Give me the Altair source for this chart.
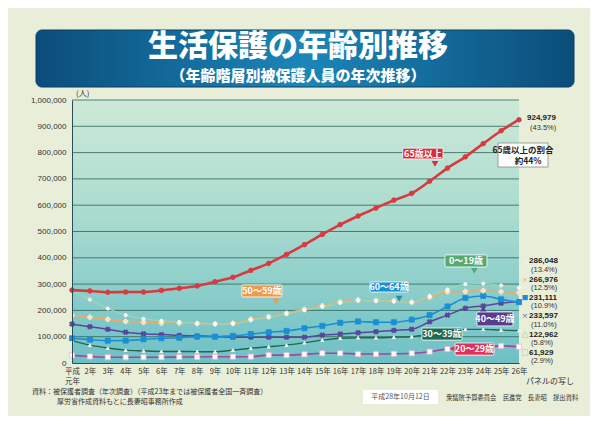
import altair as alt
import pandas as pd

# ---------------- data ----------------
years = list(range(1, 27))
series_names = ["65歳以上", "0～19歳", "50～59歳", "60～64歳", "40～49歳", "30～39歳", "20～29歳"]

v65 = [277000, 274000, 269000, 270000, 270000, 276000, 284000, 293000, 309000, 326000,
       352000, 379000, 413000, 450000, 489000, 526000, 559000, 589000, 619000, 645000,
       691000, 741000, 784000, 834000, 883000, 924979]
v0_19 = [277000, 241000, 207000, 182000, 168000, 161000, 156000, 151000, 148000, 149000,
         163000, 174000, 187000, 201000, 214000, 229000, 237000, 236000, 234000, 231000,
         255000, 280000, 300000, 302000, 295000, 286048]
v50_59 = [181000, 174000, 166000, 158000, 155000, 152000, 152000, 150000, 149000, 151000,
          166000, 176000, 189000, 204000, 217000, 232000, 240000, 238000, 236000, 231000,
          250000, 271000, 272000, 275000, 271000, 266976]
v60_64 = [94000, 89000, 85000, 85000, 90000, 94000, 96000, 100000, 100000, 103000,
          110000, 117000, 122000, 132000, 141000, 153000, 158000, 155000, 155000, 165000,
          182000, 215000, 247000, 255000, 242000, 231111]
v40_49 = [148000, 138000, 128000, 117000, 111000, 108000, 105000, 103000, 101000, 98000,
          98000, 98000, 98000, 98000, 106000, 110000, 115000, 119000, 124000, 128000,
          157000, 182000, 208000, 217000, 227000, 233597]
v30_39 = [85000, 68000, 57000, 49000, 46000, 44000, 44000, 43000, 43000, 49000,
          56000, 62000, 68000, 77000, 87000, 94000, 96000, 96000, 98000, 100000,
          110000, 123000, 128000, 128000, 125000, 122962]
v20_29 = [29000, 25000, 22000, 22000, 22000, 22000, 23000, 23000, 24000, 24000,
          24000, 30000, 30000, 33000, 37000, 37000, 34000, 34000, 35000, 37000,
          43000, 53000, 55000, 57000, 65000, 61929]

all_values = [v65, v0_19, v50_59, v60_64, v40_49, v30_39, v20_29]

y_ticks = list(range(0, 1000001, 100000))

end_numbers = ["286,048", "266,976", "231,111", "233,597", "122,962", "61,929"]
end_shares = ["(13.4%)", "(12.5%)", "(10.9%)", "(11.0%)", "(5.8%)", "(2.9%)"]
end_symbols = ["◁", "×", "■", "×", "△", "□"]

rows = []
for name, vals in zip(series_names, all_values):
    for y, v in zip(years, vals):
        rows.append({"year": y, "value": v, "series": name})
df = pd.DataFrame(rows)

# ---------------- layout ----------------
W, H = 447, 263
JP = "Noto Sans CJK JP"
NUM = "Liberation Sans"

XS = alt.Scale(domain=[1, 26], nice=False, zero=False)
YS = alt.Scale(domain=[0, 1000000], nice=False)

x_enc = alt.X("year:Q", title=None, scale=XS,
              axis=alt.Axis(values=years, grid=False, ticks=False, zindex=1, title=None,
                            labelExpr="datum.value == 1 ? ['平成','元年'] : datum.value + '年'",
                            labelFont=JP, labelFontSize=7.5, labelColor="#333",
                            labelPadding=4, domainColor="#2d4d55", domainWidth=1,
                            labelFlush=False, labelOverlap=False, labelLineHeight=10))
y_enc = alt.Y("value:Q", title=None, scale=YS,
              axis=alt.Axis(values=y_ticks, format=",d", grid=False, zindex=1, title=None,
                            ticks=False, labelFont=NUM, labelFontSize=8, labelColor="#333",
                            labelPadding=6, domainColor="#2d4d55", domainWidth=1))
x2_enc = alt.X2("year2:Q")
y2_enc = alt.Y2("value2:Q")

one = pd.DataFrame({"a": [0]})

# page panel & banner
panel = alt.Chart(one).mark_rect(color="#e8eed8").encode(
    x=alt.value(-64), x2=alt.value(518), y=alt.value(-92), y2=alt.value(316))

banner = alt.Chart(one).mark_rect(
    cornerRadius=6, stroke="#0a3f63", strokeWidth=1,
    color=alt.LinearGradient(gradient="linear",
                             stops=[alt.GradientStop(color="#0b4d7a", offset=0),
                                    alt.GradientStop(color="#1b86b8", offset=0.5),
                                    alt.GradientStop(color="#0b4d7a", offset=1)],
                             x1=0, x2=1, y1=0, y2=0)
).encode(x=alt.value(-36), x2=alt.value(502), y=alt.value(-70), y2=alt.value(-13))

title1 = alt.Chart(one).mark_text(text="生活保護の年齢別推移", font=JP, fontSize=30,
                                  fontWeight=900, color="white", align="center",
                                  baseline="middle").encode(x=alt.value(226), y=alt.value(-53))
title2 = alt.Chart(one).mark_text(text="（年齢階層別被保護人員の年次推移）", font=JP, fontSize=15,
                                  fontWeight=900, color="white", align="center",
                                  baseline="middle").encode(x=alt.value(226), y=alt.value(-24))

plotbg = alt.Chart(one).mark_rect(
    color=alt.LinearGradient(gradient="linear",
                             stops=[alt.GradientStop(color="#cde9d8", offset=0),
                                    alt.GradientStop(color="#a9dbcf", offset=0.45),
                                    alt.GradientStop(color="#6ec0c6", offset=1)],
                             x1=0, x2=0, y1=0, y2=1)
).encode(x=alt.value(0), x2=alt.value(W), y=alt.value(0), y2=alt.value(H))

grid = alt.Chart(pd.DataFrame({"value": y_ticks[1:]})).mark_rule(
    color="#2f6457", strokeWidth=1, opacity=0.8).encode(
    y=y_enc, x=alt.value(0), x2=alt.value(W))

unit = alt.Chart(one).mark_text(text="(人)", font=JP, fontSize=8, color="#333",
                                align="left", baseline="bottom").encode(
    x=alt.value(4), y=alt.value(-2))

styles = {
    "65歳以上": dict(line="#d93a3e", lw=2.6, shape="circle", size=22, fill="#d93a3e", stroke="#d93a3e"),
    "0～19歳": dict(line="#9fd6b0", lw=1.2, shape="circle", size=10, fill="#ffffff", stroke="#ffffff"),
    "50～59歳": dict(line="#f0a862", lw=1.6, shape="cross", size=22, fill="#fbe6c8", stroke="#fbe6c8"),
    "60～64歳": dict(line="#1b8fd6", lw=1.6, shape="square", size=26, fill="#1b8fd6", stroke="#1b8fd6"),
    "40～49歳": dict(line="#57479a", lw=1.5, shape="cross", size=26, fill="#57479a", stroke="#57479a", angle=45),
    "30～39歳": dict(line="#24664f", lw=1.4, shape="triangle-up", size=10, fill="#ffffff", stroke="#ffffff"),
    "20～29歳": dict(line="#a1489a", lw=1.6, shape="square", size=26, fill="#ffffff", stroke="#e9b8d8"),
}

series_layers = []
for name in series_names[::-1]:
    st = styles[name]
    base = alt.Chart(df).transform_filter(alt.datum.series == name)
    series_layers.append(base.mark_line(color=st["line"], strokeWidth=st["lw"],
                                        interpolate="monotone").encode(x=x_enc, y=y_enc))
    pk = dict(shape=st["shape"], size=st["size"], fill=st["fill"], stroke=st["stroke"],
              filled=True, opacity=1, strokeWidth=0.8)
    if "angle" in st:
        pk["angle"] = st["angle"]
    series_layers.append(base.mark_point(**pk).encode(x=x_enc, y=y_enc))

# callout labels (data coordinates)
callouts = pd.DataFrame({
    "label": ["65歳以上", "50～59歳", "60～64歳", "0～19歳", "40～49歳", "30～39歳", "20～29歳"],
    "year": [19.5, 10.5, 17.67, 21.86, 23.65, 20.57, 22.42],
    "year2": [21.75, 12.74, 19.79, 24.21, 25.66, 22.81, 24.6],
    "value": [776000, 251000, 270000, 365000, 141000, 87000, 30000],
    "value2": [817000, 297000, 308000, 411000, 194000, 133000, 76000],
    "color": ["#d42f3a", "#ef9a4a", "#1a90d0", "#5aa874", "#5a3c8c", "#1f6a50", "#e0305a"],
})
callout_text = pd.DataFrame({
    "label": callouts["label"],
    "year": (callouts["year"] + callouts["year2"]) / 2,
    "value": (callouts["value"] + callouts["value2"]) / 2,
})

pointers = pd.DataFrame({
    "year": [21.3, 12.4, 19.3, 23.5, 24.0, 20.9, 22.3],
    "value": [757000, 233000, 245000, 350000, 205000, 122000, 55000],
    "color": ["#d42f3a", "#ef9a4a", "#1a90d0", "#5aa874", "#5a3c8c", "#1f6a50", "#e0305a"],
    "shape": ["triangle-down", "triangle-down", "triangle-down", "triangle-down",
              "triangle-up", "triangle-left", "triangle-left"],
})

ptr_layer = alt.Chart(pointers).mark_point(filled=True, opacity=1, size=45).encode(
    x=x_enc, y=y_enc,
    color=alt.Color("color:N", scale=None),
    shape=alt.Shape("shape:N", scale=None))

box_layer = alt.Chart(callouts).mark_rect(stroke="white", strokeWidth=0.8, cornerRadius=1).encode(
    x=x_enc, x2=x2_enc, y=y_enc, y2=y2_enc,
    color=alt.Color("color:N", scale=None))
box_text = alt.Chart(callout_text).mark_text(font=JP, fontSize=9, fontWeight="bold",
                                            color="white", baseline="middle").encode(
    x=x_enc, y=y_enc, text="label:N")

# right-side end labels
end_num_df = pd.DataFrame({
    "num": end_numbers, "sym": end_symbols, "year": [26] * 6,
    "value": [386000, 316000, 247000, 177000, 108000, 38000],
    "symcolor": ["#ffffff", "#f0a862", "#1b8fd6", "#57479a", "#5aa874", "#c080b0"],
})
end_share_df = pd.DataFrame({
    "share": end_shares, "year": [26] * 6,
    "value": [355000, 285000, 216000, 146000, 77000, 7000],
})
end_num = alt.Chart(end_num_df).mark_text(font=NUM, fontSize=8, fontWeight="bold", color="#222",
                                          align="left", baseline="middle", dx=10).encode(
    x=x_enc, y=y_enc, text="num:N")
end_sym = alt.Chart(end_num_df).mark_text(font=JP, fontSize=6.5, align="center",
                                          baseline="middle", dx=6).encode(
    x=x_enc, y=y_enc, text="sym:N", color=alt.Color("symcolor:N", scale=None))
end_share = alt.Chart(end_share_df).mark_text(font=NUM, fontSize=7.5, color="#333",
                                              align="left", baseline="middle", dx=12).encode(
    x=x_enc, y=y_enc, text="share:N")

top_num_df = pd.DataFrame({"num": ["924,979"], "year": [26], "value": [931000]})
top_share_df = pd.DataFrame({"share": ["(43.5%)"], "year": [26], "value": [895000]})
top_num = alt.Chart(top_num_df).mark_text(font=NUM, fontSize=8, fontWeight="bold", color="#222",
                                          align="left", baseline="middle", dx=8).encode(
    x=x_enc, y=y_enc, text="num:N")
top_share = alt.Chart(top_share_df).mark_text(font=NUM, fontSize=7.5, color="#333",
                                              align="left", baseline="middle", dx=11).encode(
    x=x_enc, y=y_enc, text="share:N")

ratio_box = alt.Chart(one).mark_rect(color="white", stroke="#888", strokeWidth=0.8).encode(
    x=alt.value(426), x2=alt.value(476), y=alt.value(43), y2=alt.value(67))
ratio_t1 = alt.Chart(one).mark_text(text="65歳以上の割合", font=JP, fontSize=8.5, fontWeight="bold",
                                    color="#222", align="center", baseline="middle").encode(
    x=alt.value(451), y=alt.value(50))
ratio_t2 = alt.Chart(one).mark_text(text="約44%", font=JP, fontSize=8.5, fontWeight="bold",
                                    color="#222", align="center", baseline="middle").encode(
    x=alt.value(456), y=alt.value(61))

# footer
foot1 = alt.Chart(one).mark_text(text="資料：被保護者調査（年次調査）（平成23年までは被保護者全国一斉調査）",
                                 font=JP, fontSize=7, color="#333", align="left",
                                 baseline="middle").encode(x=alt.value(-40), y=alt.value(292))
foot2 = alt.Chart(one).mark_text(text="厚労省作成資料もとに長妻昭事務所作成",
                                 font=JP, fontSize=7, color="#333", align="left",
                                 baseline="middle").encode(x=alt.value(-15), y=alt.value(302))
panel_note = alt.Chart(one).mark_text(text="パネルの写し", font=JP, fontSize=8, color="#333",
                                      align="right", baseline="middle").encode(
    x=alt.value(502), y=alt.value(282))
date_box = alt.Chart(one).mark_rect(color="white").encode(
    x=alt.value(291), x2=alt.value(366), y=alt.value(290), y2=alt.value(304))
date_text = alt.Chart(one).mark_text(text="平成28年10月12日", font=JP, fontSize=7, color="#555",
                                     align="center", baseline="middle").encode(
    x=alt.value(328.5), y=alt.value(297))
foot3 = alt.Chart(one).mark_text(text="衆議院予算委員会　民進党　長妻昭　提出資料", font=JP,
                                 fontSize=6.3, color="#333", align="left",
                                 baseline="middle").encode(x=alt.value(374), y=alt.value(298))

chart = alt.layer(
    panel, banner, title1, title2, plotbg, grid, *series_layers,
    ptr_layer, box_layer, box_text,
    end_sym, end_num, end_share, top_num, top_share,
    ratio_box, ratio_t1, ratio_t2, unit,
    foot1, foot2, panel_note, date_box, date_text, foot3,
).resolve_scale(x="shared", y="shared").properties(
    width=W, height=H,
    autosize=alt.AutoSizeParams(type="none"),
    padding={"left": 72, "top": 100, "right": 89, "bottom": 68},
    background="white",
).configure_view(stroke=None)

chart.save("out.html", embed_options={"renderer": "svg", "actions": False})
